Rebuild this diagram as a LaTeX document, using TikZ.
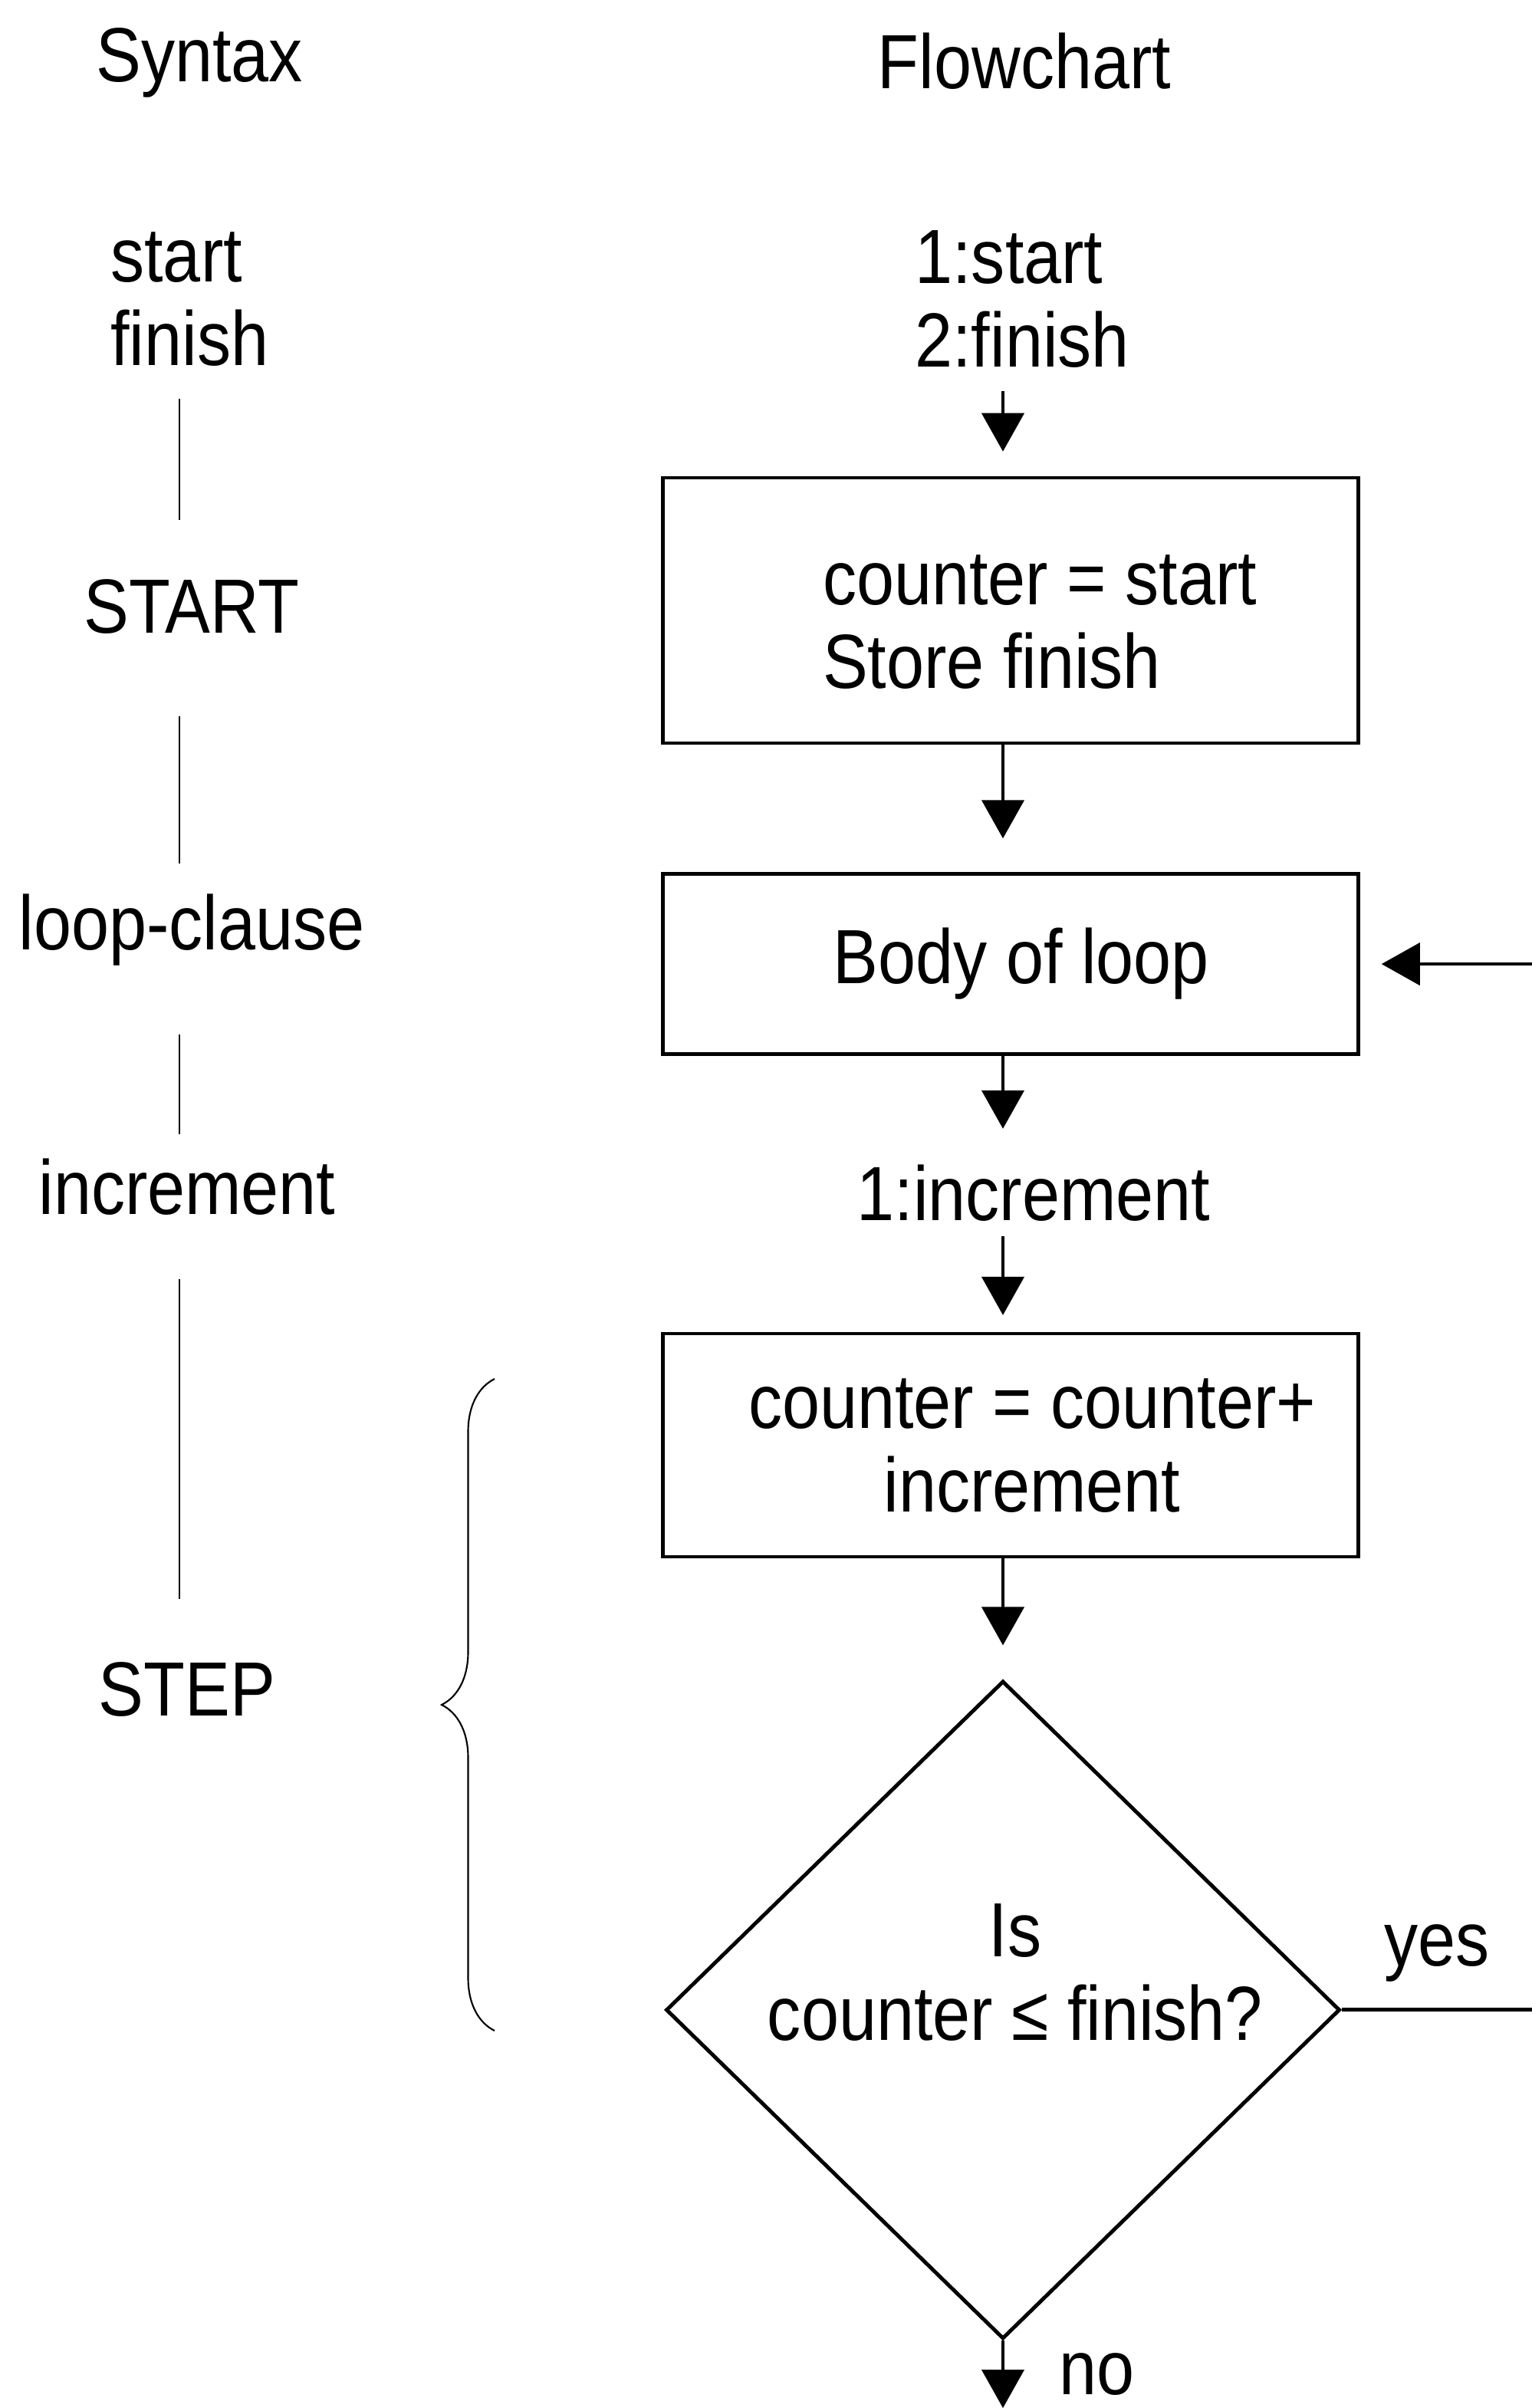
\documentclass[tikz,border=0pt]{standalone}
\usepackage{fontspec}
\setmainfont{Liberation Sans}[FakeStretch=0.88]
\usepackage{tikz}
\usetikzlibrary{shapes.geometric,positioning,calc,arrows.meta,decorations.pathreplacing}

\begin{document}
\begin{tikzpicture}[txt/.style={font=\fontsize{28.5}{31}\selectfont},
  box/.style={txt, rectangle, draw, line width=1.3pt, minimum width=9.07cm},
  decision/.style={txt, diamond, draw, line width=1.4pt, inner sep=0pt, aspect=1, minimum width=8.79cm, minimum height=8.58cm},
  flow/.style={line width=1.2pt, -{Triangle[length=0.5cm,width=0.55cm]}},
  synline/.style={line width=0.6pt}]
\useasboundingbox (0,0) rectangle (19.98,-31.40);

%--colonna della sintassi
\coordinate (spine) at (2.34,0);
\node [txt] (syntitle) at (2.60,-0.82) {Syntax};
\node [txt, align=left, anchor=west] (synsf) at (1.32,-3.90) {start\\finish};
\node [txt] (synstart) at (2.50,-7.91) {START};
\node [txt] (synloop) at (2.50,-12.13) {loop-clause};
\node [txt] (syninc) at (2.44,-15.48) {increment};
\node [txt] (synstep) at (2.44,-22.03) {STEP};

\draw[synline, shorten <=0.30cm, shorten >=0.65cm] (synsf.south -| spine) -- (synstart.north -| spine);
\draw[synline, shorten <=0.95cm, shorten >=0.28cm] (synstart.south -| spine) -- (synloop.north -| spine);
\draw[synline, shorten <=0.77cm, shorten >=0.20cm] (synloop.south -| spine) -- (syninc.north -| spine);
\draw[synline, shorten <=0.71cm, shorten >=0.70cm] (syninc.south -| spine) -- (synstep.north -| spine);

%--parentesi del passo
\draw[synline, decorate, decoration={brace, amplitude=0.69cm}] (6.45,-26.48) -- (6.45,-17.98);

%--colonna del diagramma di flusso
\node [txt] (flowtitle) at (13.36,-0.80) {Flowchart};
\node [txt, align=left, anchor=west] (bounds) at (11.81,-3.90) {1:start\\2:finish};
\node [box, minimum height=3.46cm, align=left] (init) at (13.18,-7.96)
	{\hspace*{0.76cm}\rule{0pt}{0.95cm}counter = start\\\hspace*{0.76cm}Store finish};
\node [box, minimum height=2.35cm, below=1.66cm of init] (body) {\hspace*{0.28cm}Body of loop};
\node [txt] (incr) at (13.48,-15.56) {1:increment};
\node [box, minimum height=2.91cm, align=center, below=3.60cm of body] (step)
	{\hspace*{0.56cm}counter = counter+\\\hspace*{0.56cm}increment};
\node [decision, below=1.57cm of step, xshift=-0.10cm] (test)
	{\raisebox{0.15cm}[0pt][0pt]{\hspace*{0.32cm}\begin{tabular}{@{}c@{}}Is\\counter ≤ finish?\end{tabular}}};

\coordinate (exit) at (test.south |- 0,-31.40);
\coordinate (yesend) at (19.98,0 |- test.east);
\coordinate (loopend) at (19.98,0 |- body.east);

\draw[flow, shorten <=0.18cm, shorten >=0.32cm] (bounds.south -| test) -- (init.north -| test);
\draw[flow, shorten >=0.44cm] (init.south -| test) -- (body.north -| test);
\draw[flow, shorten >=0.35cm] (body.south -| test) -- (incr.north -| test);
\draw[flow, shorten <=0.07cm, shorten >=0.22cm] (incr.south -| test) -- (step.north -| test);
\draw[flow, shorten >=0.44cm] (step.south -| test) -- (test.north);
\draw[flow] (test.south) -- (exit) node[txt, pos=0.5, right=0.6cm] (nolbl) {no};
\draw[line width=1.4pt] (test.east) -- (yesend) node[txt, midway, above=0.22cm] (yeslbl) {yes};
\draw[flow, shorten >=0.28cm] (loopend) -- (body.east);

\end{tikzpicture}
\end{document}
